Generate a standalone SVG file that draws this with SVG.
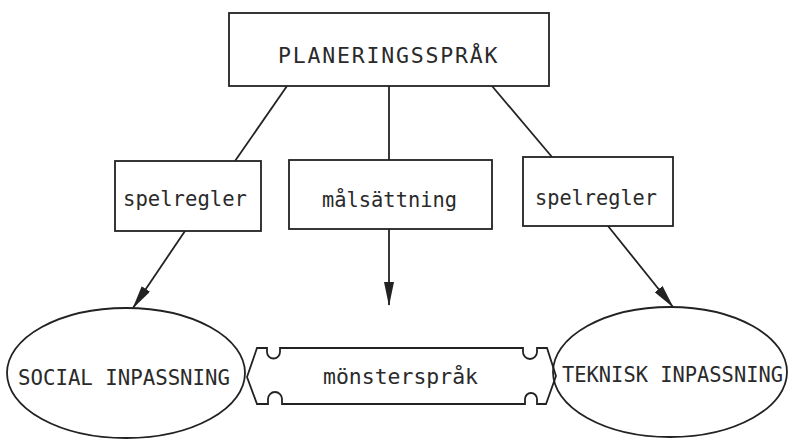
<svg xmlns="http://www.w3.org/2000/svg" width="788" height="440" viewBox="0 0 788 440">
<defs>
<style>
.box{fill:#fff;stroke:#222;stroke-width:1.8}
.ln{fill:none;stroke:#222;stroke-width:1.8}
.t{font-family:"DejaVu Sans Mono","Liberation Mono",monospace;fill:#2a2a2a;text-anchor:start;font-size:20.5px}
</style>
<marker id="ah" viewBox="0 0 24 10" refX="23" refY="5" markerWidth="24" markerHeight="10" markerUnits="userSpaceOnUse" orient="auto">
<path d="M0,0 L24,5 L0,10 Z" fill="#222"/>
</marker>
</defs>
<rect width="788" height="440" fill="#fff"/>
<g id="connectors">
<line class="ln" x1="287" y1="86" x2="235" y2="161"/>
<line class="ln" x1="389" y1="86" x2="389" y2="160"/>
<line class="ln" x1="492" y1="86" x2="552" y2="157"/>
<line class="ln" x1="185" y1="231" x2="133" y2="308" marker-end="url(#ah)"/>
<line class="ln" x1="389" y1="229" x2="389" y2="305" marker-end="url(#ah)"/>
<line class="ln" x1="608" y1="226" x2="673" y2="307" marker-end="url(#ah)"/>
</g>
<g id="planeringssprak">
<rect class="box" x="229" y="13" width="320" height="73"/>
<text class="t" x="278" y="63" style="font-size:21.5px;letter-spacing:1.8px">PLANERINGSSPRÅK</text>
</g>
<g id="spelregler-left">
<rect class="box" x="115" y="161" width="146" height="70"/>
<text class="t" x="123" y="206" textLength="124" lengthAdjust="spacingAndGlyphs">spelregler</text>
</g>
<g id="malsattning">
<rect class="box" x="289" y="160" width="203" height="69"/>
<text class="t" x="322" y="207" textLength="135" lengthAdjust="spacingAndGlyphs">målsättning</text>
</g>
<g id="spelregler-right">
<rect class="box" x="523" y="157" width="150" height="69"/>
<text class="t" x="535" y="205" textLength="122" lengthAdjust="spacingAndGlyphs">spelregler</text>
</g>
<g id="social">
<ellipse class="ln" cx="126" cy="373" rx="119" ry="65"/>
<text class="t" x="18" y="385" textLength="212" lengthAdjust="spacingAndGlyphs">SOCIAL INPASSNING</text>
</g>
<g id="monstersprak">
<path class="ln" d="M247,377 L257,348 L267,348 L267,352 A6.5,6.5 0 0 0 280,352 L280,348 L523,348 L523,352 A7,7 0 0 0 537,352 L537,348 L547,348 L556,376 L546,404 L537,404 L537,399 A6,6 0 0 0 525,399 L525,404 L282,404 L282,399 A7,7 0 0 0 268,399 L268,404 L257,404 Z"/>
<text class="t" x="323" y="384" textLength="155" lengthAdjust="spacingAndGlyphs">mönsterspråk</text>
</g>
<g id="teknisk">
<ellipse class="ln" cx="670" cy="372" rx="117" ry="65"/>
<text class="t" x="562" y="382" textLength="221" lengthAdjust="spacingAndGlyphs">TEKNISK INPASSNING</text>
</g>
</svg>
